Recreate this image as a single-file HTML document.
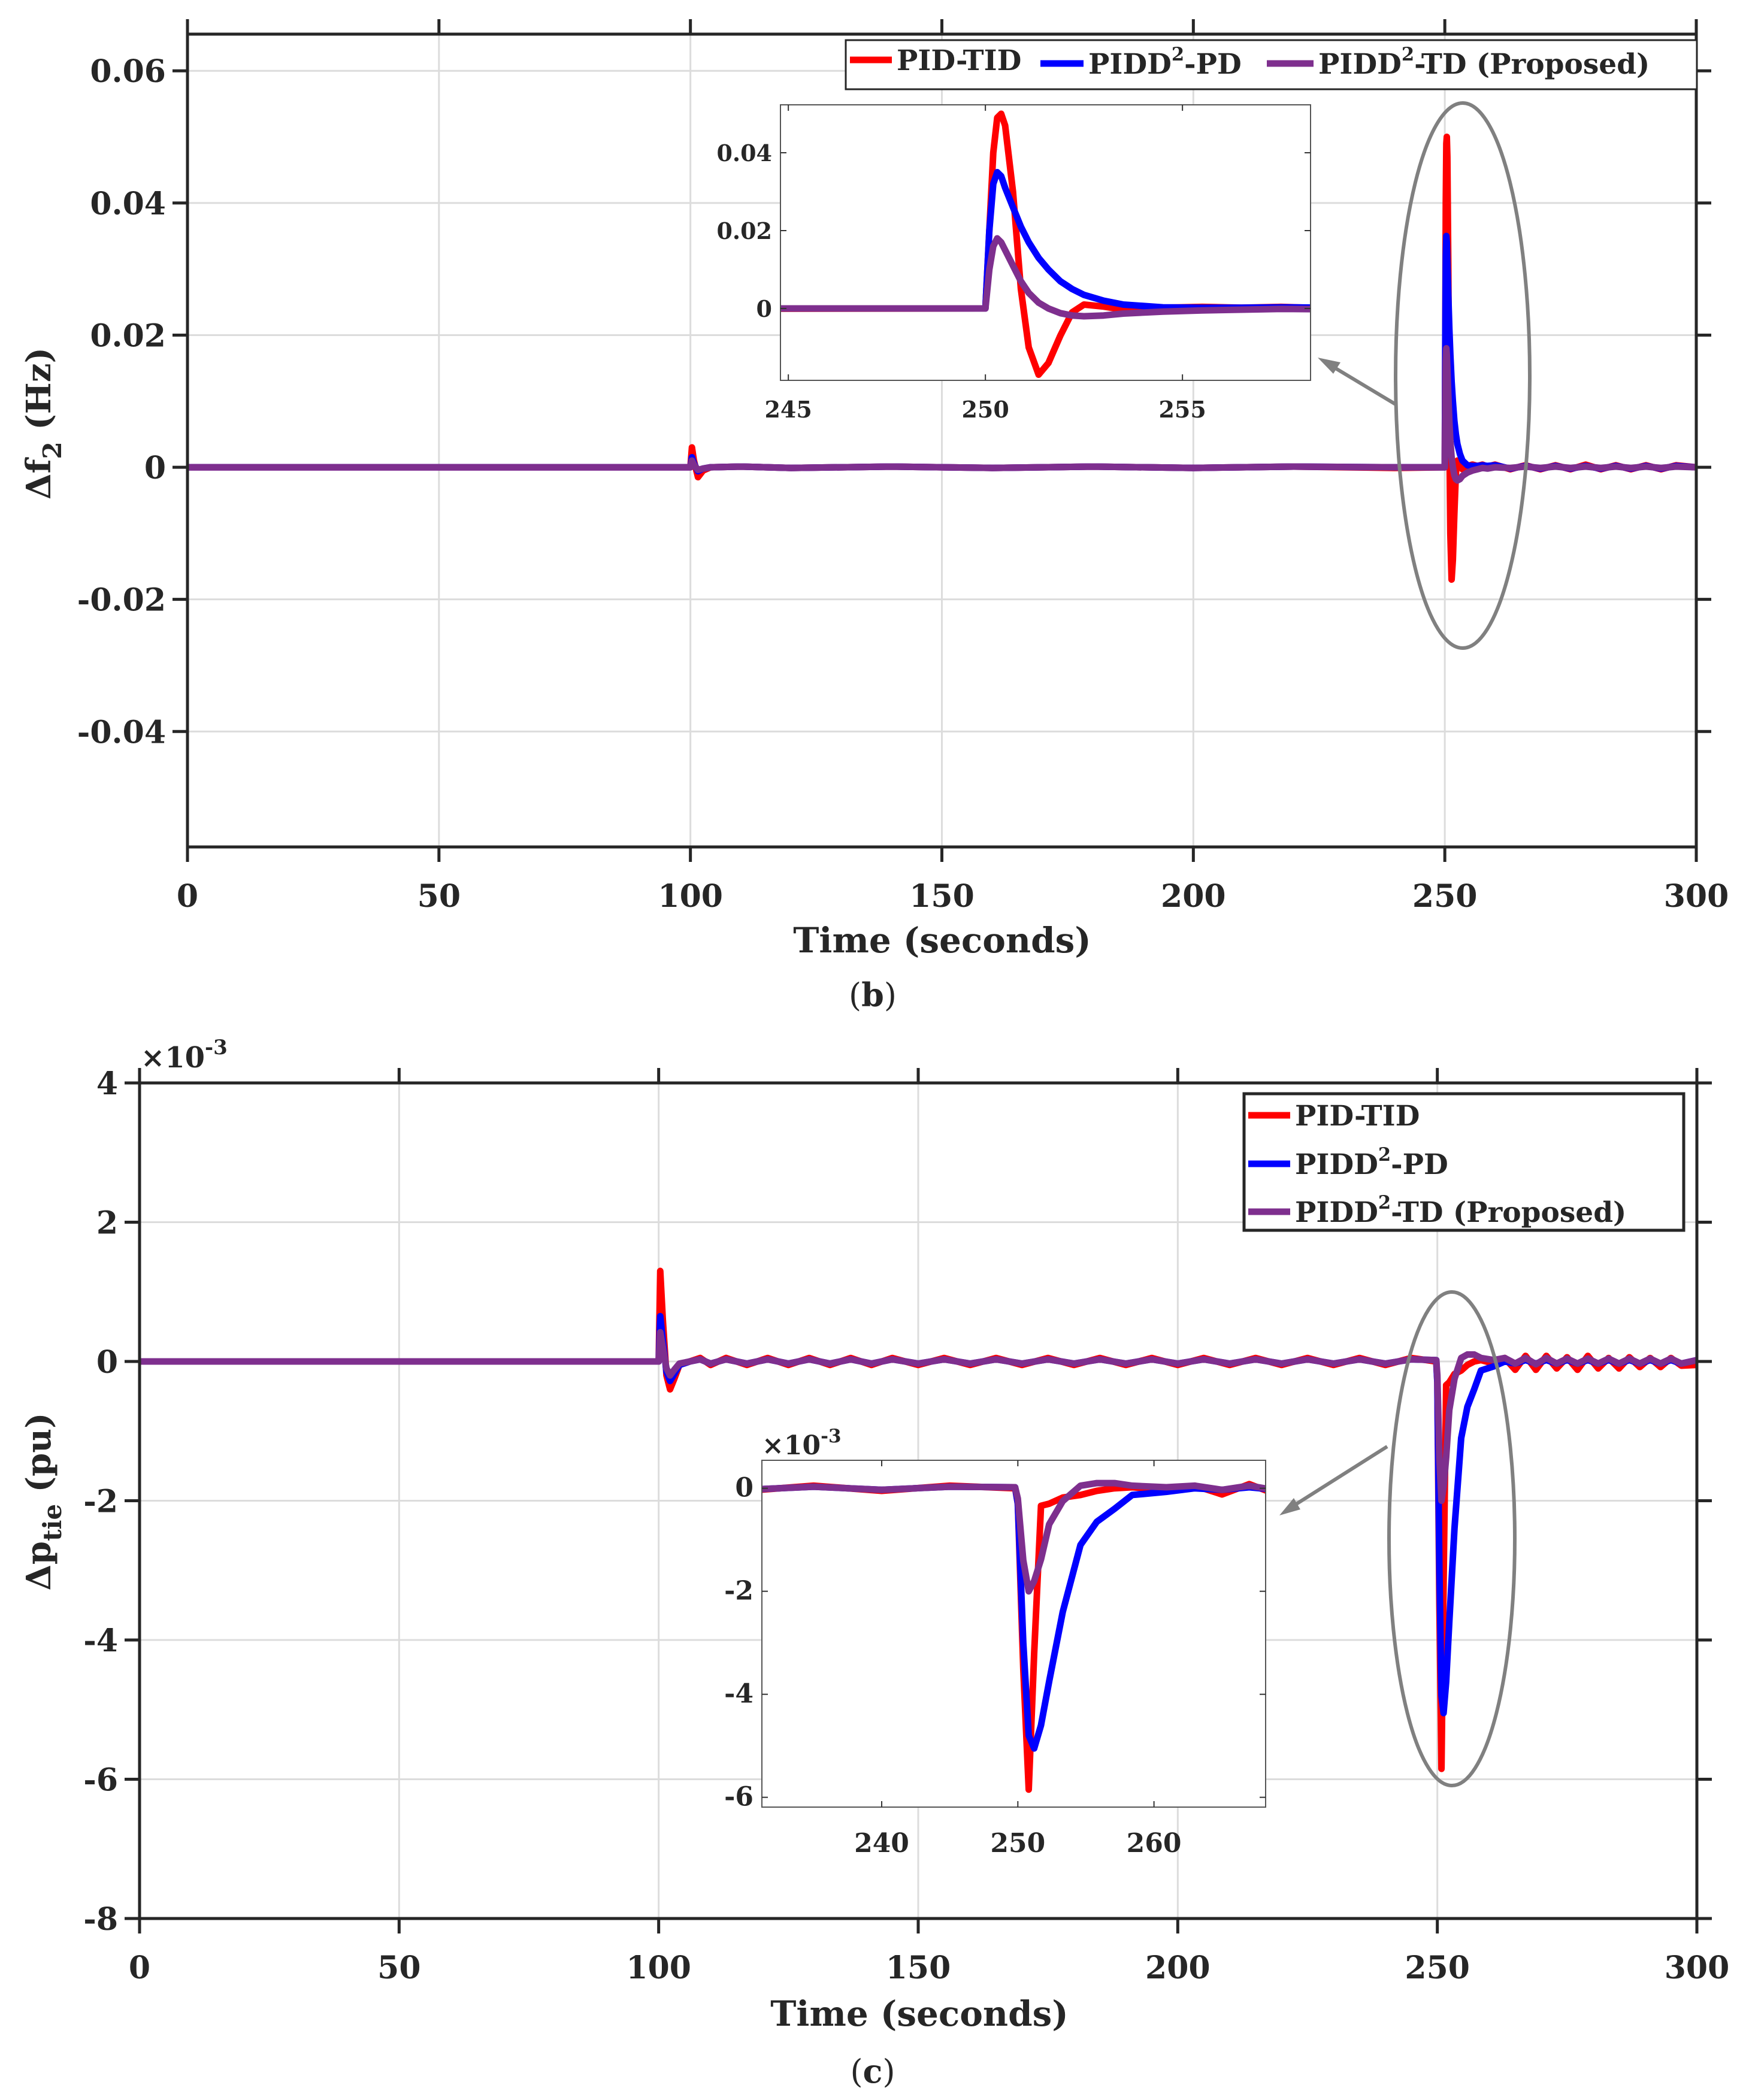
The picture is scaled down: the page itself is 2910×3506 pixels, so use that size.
<!DOCTYPE html>
<html><head><meta charset="utf-8">
<style>
html,body{margin:0;padding:0;background:#fff;}
svg{display:block;}
text{font-family:"DejaVu Serif","Liberation Serif",serif;font-weight:bold;fill:#262626;}
</style></head>
<body>
<svg id="fig" width="2910" height="3506" viewBox="0 0 2910 3506" xmlns="http://www.w3.org/2000/svg">
<defs>
<clipPath id="c1"><rect x="313" y="57" width="2519" height="1357"/></clipPath>
<clipPath id="c1i"><rect x="1303" y="175" width="885" height="460"/></clipPath>
<clipPath id="c2"><rect x="233" y="1808" width="2600" height="1395"/></clipPath>
<clipPath id="c2i"><rect x="1272" y="2438" width="841" height="579"/></clipPath>
</defs>
</svg>
<script>
// ---------- Panel (b): delta f2 (Hz) ----------
const fTimes   = [0,100,100.3,100.7,101.5,102.5,104,110,120,140,160,180,200,220,240,249.9,250,250.1,250.2,250.3,250.4,250.5,250.7,250.9,251.1,251.35,251.6,251.9,252.2,252.5,253,253.5,254.5,255.5,256.5,257.5,258.5,260,263,266,269,272,275,278,281,284,287,290,293,296,300];
const fRed     = [0,0,0.003,0.001,-0.0015,-0.0005,0,0.0001,-0.0001,0.0001,-0.0001,0.0001,-0.0001,0.0001,-0.0001,0,0,0.02,0.04,0.049,0.05,0.047,0.03,0.005,-0.01,-0.017,-0.014,-0.007,-0.001,0.001,0.0005,-0.0003,0.0002,0.0004,0.0002,0.0004,0.0001,0.0004,-0.0003,0.0003,-0.0003,0.0003,-0.0003,0.0004,-0.0003,0.0003,-0.0003,0.0003,-0.0003,0.0003,0];
const fBlue    = [0,0,0.0015,0.0006,-0.0006,-0.0002,0,0.0001,-0.0001,0.0001,-0.0001,0.0001,-0.0001,0.0001,0,0,0,0.02,0.032,0.035,0.034,0.031,0.026,0.021,0.017,0.013,0.01,0.007,0.005,0.0035,0.002,0.001,0.0003,0.0002,0.0002,0.0003,0.0002,0.0003,-0.0002,0.0002,-0.0002,0.0002,-0.0002,0.0002,-0.0002,0.0002,-0.0002,0.0002,-0.0002,0.0002,0];
const fPurple  = [0,0,0.001,0.0004,-0.0004,-0.0002,0,0.0001,-0.0001,0.0001,-0.0001,0.0001,-0.0001,0.0001,0,0,0,0.01,0.016,0.018,0.017,0.015,0.011,0.007,0.004,0.0015,0,-0.0012,-0.0018,-0.002,-0.0018,-0.0013,-0.0008,-0.0005,-0.0003,-0.0001,-0.0002,0,-0.0001,0.0001,-0.0001,0.0001,-0.0001,0.0001,-0.0001,0.0001,-0.0001,0.0001,-0.0001,0.0001,0];
const fYTicks  = [-0.04,-0.02,0,0.02,0.04,0.06];
const fYLabels = ["-0.04","-0.02","0","0.02","0.04","0.06"];
const xTicks   = [0,50,100,150,200,250,300];
const fInsetXTicks = [245,250,255];
const fInsetYTicks = [0,0.02,0.04];
const fInsetYLabels = ["0","0.02","0.04"];

// ---------- Panel (c): delta p_tie (pu, x1e-3) ----------
const pTimes   = [0,100,100.3,100.8,101.5,102.2,103,104,106,108,110,113,117,121,125,129,133,137,141,145,150,155,160,165,170,175,180,185,190,195,200,205,210,215,220,225,230,235,240,245,249.8,250,250.4,250.8,251.2,251.7,252.3,253.3,254.6,255.8,257.1,258.4,260.9,263,265,267,269,271,273,275,277,279,281,283,285,287,289,291,293,295,297,300];
const pRed     = [0,0,1.3,0.6,-0.2,-0.4,-0.25,-0.05,0,0.05,-0.05,0.05,-0.05,0.05,-0.05,0.05,-0.05,0.05,-0.05,0.05,-0.05,0.05,-0.05,0.05,-0.05,0.05,-0.05,0.05,-0.05,0.05,-0.05,0.05,-0.05,0.05,-0.05,0.05,-0.05,0.05,-0.05,0.05,0,-0.3,-3.5,-5.85,-3.2,-0.34,-0.3,-0.18,-0.13,-0.05,0,0.02,-0.03,0.05,-0.12,0.08,-0.12,0.08,-0.1,0.06,-0.12,0.08,-0.1,0.05,-0.1,0.06,-0.08,0.05,-0.08,0.05,-0.06,-0.05];
const pBlue    = [0,0,0.65,0.3,-0.15,-0.28,-0.18,-0.05,0,0.03,-0.03,0.03,-0.03,0.03,-0.03,0.03,-0.03,0.03,-0.03,0.03,-0.03,0.03,-0.03,0.03,-0.03,0.03,-0.03,0.03,-0.03,0.03,-0.03,0.03,-0.03,0.03,-0.03,0.03,-0.03,0.03,-0.03,0.03,0.02,-0.3,-3.0,-4.8,-5.05,-4.6,-3.75,-2.4,-1.1,-0.65,-0.4,-0.13,-0.07,0,-0.03,0.02,-0.03,0.02,-0.03,0.02,-0.03,0.02,-0.03,0.02,-0.03,0.02,-0.03,0.02,-0.03,0.02,-0.03,0.02];
const pPurple  = [0,0,0.42,0.2,-0.1,-0.2,-0.12,-0.03,0,0.03,-0.03,0.03,-0.03,0.03,-0.03,0.03,-0.03,0.03,-0.03,0.03,-0.03,0.03,-0.03,0.03,-0.03,0.03,-0.03,0.03,-0.03,0.03,-0.03,0.03,-0.03,0.03,-0.03,0.03,-0.03,0.03,-0.03,0.03,0.02,-0.2,-1.4,-2.0,-1.8,-1.38,-0.7,-0.25,0.05,0.1,0.1,0.05,0.02,0.05,-0.03,0.05,-0.04,0.05,-0.03,0.04,-0.03,0.04,-0.03,0.04,-0.03,0.04,-0.03,0.04,-0.03,0.04,-0.03,0.02];
const pYTicks  = [-8,-6,-4,-2,0,2,4];
const pYLabels = ["-8","-6","-4","-2","0","2","4"];
const pInsetXTicks = [240,250,260];
const pInsetYTicks = [-6,-4,-2,0];
const pInsetYLabels = ["-6","-4","-2","0"];

const seriesNames = ["PID-TID","PIDD²-PD","PIDD²-TD (Proposed)"];
const colors = ["#ff0000","#0000ff","#7e2f8e"];

const NS="http://www.w3.org/2000/svg";
const svg=document.getElementById('fig');
function mk(tag,attrs,parent){const e=document.createElementNS(NS,tag);for(const k in attrs)e.setAttribute(k,attrs[k]);(parent||svg).appendChild(e);return e;}
function lin(d0,d1,r0,r1){return v=>r0+(v-d0)*(r1-r0)/(d1-d0);}

function drawSeries(g,xs,ys,sx,sy,color,clip,name,w){
  let d='';
  for(let i=0;i<xs.length;i++){d+=(i?'L':'M')+sx(xs[i]).toFixed(1)+','+sy(ys[i]).toFixed(1);}
  const p=mk('path',{d:d,fill:'none',stroke:color,'stroke-width':w,'stroke-linejoin':'round','stroke-linecap':'round','clip-path':'url(#'+clip+')'},g);
  
  
}

function panel(cfg){
  const g=mk('g',{});
  
  
  const sx=lin(0,300,cfg.L,cfg.R), sy=lin(cfg.y0,cfg.y1,cfg.B,cfg.T);
  xTicks.forEach(t=>{ if(t>0&&t<300){const l=mk('line',{x1:sx(t),x2:sx(t),y1:cfg.T,y2:cfg.B,stroke:'#dcdcdc','stroke-width':3},g);
    
    }});
  cfg.yt.forEach(t=>{const l=mk('line',{x1:cfg.L,x2:cfg.R,y1:sy(t),y2:sy(t),stroke:'#dcdcdc','stroke-width':3},g);
    
    });
  for(let k=0;k<3;k++) drawSeries(g,cfg.t,cfg.s[k],sx,sy,colors[k],cfg.clip,'series-'+['pid-tid','pidd2-pd','pidd2-td'][k],11);
  const box=mk('rect',{x:cfg.L,y:cfg.T,width:cfg.R-cfg.L,height:cfg.B-cfg.T,fill:'none',stroke:'#262626','stroke-width':5},g);
  
  
  xTicks.forEach(t=>{
    mk('line',{x1:sx(t),x2:sx(t),y1:cfg.B,y2:cfg.B+25,stroke:'#262626','stroke-width':5},g);
    mk('line',{x1:sx(t),x2:sx(t),y1:cfg.T,y2:cfg.T-25,stroke:'#262626','stroke-width':5},g);
    const tx=mk('text',{x:sx(t),y:cfg.B+100,'text-anchor':'middle','font-size':52},g);tx.textContent=t;
    
    
  });
  cfg.yt.forEach((t,i)=>{
    mk('line',{x1:cfg.L-25,x2:cfg.L,y1:sy(t),y2:sy(t),stroke:'#262626','stroke-width':5},g);
    mk('line',{x1:cfg.R,x2:cfg.R+25,y1:sy(t),y2:sy(t),stroke:'#262626','stroke-width':5},g);
    const tx=mk('text',{x:cfg.L-36,y:sy(t)+19,'text-anchor':'end','font-size':52},g);tx.textContent=cfg.yl[i];
    
    
  });
  return {sx,sy,g};
}

function inset(cfg){
  const g=mk('g',{});
  
  
  mk('rect',{x:cfg.L,y:cfg.T,width:cfg.R-cfg.L,height:cfg.B-cfg.T,fill:'#fff',stroke:'none'},g);
  const sx=lin(cfg.x0,cfg.x1,cfg.L,cfg.R), sy=lin(cfg.y0,cfg.y1,cfg.B,cfg.T);
  for(let k=0;k<3;k++) drawSeries(g,cfg.t,cfg.s[k],sx,sy,colors[k],cfg.clip,'inset-series-'+['pid-tid','pidd2-pd','pidd2-td'][k],11);
  const box=mk('rect',{x:cfg.L,y:cfg.T,width:cfg.R-cfg.L,height:cfg.B-cfg.T,fill:'none',stroke:'#555','stroke-width':2},g);
  
  
  cfg.xt.forEach(t=>{
    mk('line',{x1:sx(t),x2:sx(t),y1:cfg.B,y2:cfg.B-10,stroke:'#333','stroke-width':2},g);
    mk('line',{x1:sx(t),x2:sx(t),y1:cfg.T,y2:cfg.T+10,stroke:'#333','stroke-width':2},g);
    const tx=mk('text',{x:sx(t),y:cfg.B+cfg.xlOff,'text-anchor':'middle','font-size':cfg.fs},g);tx.textContent=t;
    
    
  });
  cfg.yt.forEach((t,i)=>{
    mk('line',{x1:cfg.L,x2:cfg.L+10,y1:sy(t),y2:sy(t),stroke:'#333','stroke-width':2},g);
    mk('line',{x1:cfg.R,x2:cfg.R-10,y1:sy(t),y2:sy(t),stroke:'#333','stroke-width':2},g);
    const tx=mk('text',{x:cfg.L-14,y:sy(t)+14,'text-anchor':'end','font-size':cfg.fs},g);tx.textContent=cfg.yl[i];
    
    
  });
}

panel({name:'panel-b',L:313,R:2832,T:57,B:1414,y0:-0.05747,y1:0.06555,yt:fYTicks,yl:fYLabels,t:fTimes,s:[fRed,fBlue,fPurple],clip:'c1'});
const e1=mk('ellipse',{cx:2442,cy:627,rx:112,ry:455,fill:'none',stroke:'#808080','stroke-width':6});


const a1=mk('g',{});


mk('line',{x1:2330,x2:2215,y1:675,y2:606,stroke:'#808080','stroke-width':6},a1);
mk('polygon',{points:'2200,597 2238,605 2226,624',fill:'#808080'},a1);
inset({name:'inset-b',L:1303,R:2188,T:175,B:635,x0:244.80,x1:258.25,y0:-0.01846,y1:0.05231,xt:fInsetXTicks,yt:fInsetYTicks,yl:fInsetYLabels,t:fTimes,s:[fRed,fBlue,fPurple],clip:'c1i',fs:38,xlOff:62});

panel({name:'panel-c',L:233,R:2833,T:1808,B:3203,y0:-8,y1:4,yt:pYTicks,yl:pYLabels,t:pTimes,s:[pRed,pBlue,pPurple],clip:'c2'});
const e2=mk('ellipse',{cx:2424,cy:2569,rx:105,ry:412,fill:'none',stroke:'#808080','stroke-width':6});


const a2=mk('g',{});


mk('line',{x1:2316,x2:2150,y1:2415,y2:2520,stroke:'#808080','stroke-width':6},a2);
mk('polygon',{points:'2136,2530 2160,2501 2171,2520',fill:'#808080'},a2);
inset({name:'inset-c',L:1272,R:2113,T:2438,B:3017,x0:231.2,x1:268.2,y0:-6.19,y1:0.543,xt:pInsetXTicks,yt:pInsetYTicks,yl:pInsetYLabels,t:pTimes,s:[pRed,pBlue,pPurple],clip:'c2i',fs:44,xlOff:75});

function legendEntry(x,y,k,fs,lw){
  const g=mk('g',{});
  
  
  mk('line',{x1:x,x2:x+lw,y1:y,y2:y,stroke:colors[k],'stroke-width':11},g);
  const t=mk('text',{x:x+lw+8,y:y+17,'font-size':fs},g);
  const nm=seriesNames[k];
  if(nm.indexOf('²')>=0){
    const parts=nm.split('²');
    const s1=mk('tspan',{},t);s1.textContent=parts[0];
    const s2=mk('tspan',{dy:-22,'font-size':fs*0.65},t);s2.textContent='2';
    const s3=mk('tspan',{dy:22},t);s3.textContent=parts[1];
  } else t.textContent=nm;
}
const lg1=mk('rect',{x:1412,y:67,width:1421,height:82,fill:'#fff',stroke:'#262626','stroke-width':3});


legendEntry(1419,100,0,47,70);
legendEntry(1737,106,1,47,72);
legendEntry(2115,106,2,47,78);
const lg2=mk('rect',{x:2077,y:1826,width:734,height:228,fill:'#fff',stroke:'#262626','stroke-width':5});


legendEntry(2084,1862,0,47,70);
legendEntry(2084,1943,1,47,70);
legendEntry(2084,2023,2,47,70);

function txt(s,attrs,name){const t=mk('text',attrs);t.textContent=s;return t;}
txt('Time (seconds)',{x:1573,y:1590,'text-anchor':'middle','font-size':58},'x-axis-title-b');
txt('Time (seconds)',{x:1535,y:3382,'text-anchor':'middle','font-size':58},'x-axis-title-c');
const cb=txt('',{x:1457,y:1680,'text-anchor':'middle','font-size':54},'caption-b');
cb.innerHTML='<tspan font-weight="normal">(</tspan>b<tspan font-weight="normal">)</tspan>';
const cc=txt('',{x:1457,y:3477,'text-anchor':'middle','font-size':54},'caption-c');
cc.innerHTML='<tspan font-weight="normal">(</tspan>c<tspan font-weight="normal">)</tspan>';
const yb=txt('',{x:0,y:0,'text-anchor':'middle','font-size':56,transform:'translate(84,707) rotate(-90)'},'y-axis-title-b');
yb.innerHTML='Δf<tspan dy="18" font-size="42">2</tspan><tspan dy="-18"> (Hz)</tspan>';
const yc=txt('',{x:0,y:0,'text-anchor':'middle','font-size':56,transform:'translate(84,2507) rotate(-90)'},'y-axis-title-c');
yc.innerHTML='Δp<tspan dy="18" font-size="42">tie</tspan><tspan dy="-18"> (pu)</tspan>';
const m1=txt('',{x:235,y:1782,'font-size':48,'font-weight':'normal'},'exponent-label-c');
m1.innerHTML='×10<tspan dy="-22" font-size="34">-3</tspan>';
const m2=txt('',{x:1272,y:2428,'font-size':44,'font-weight':'normal'},'exponent-label-inset-c');
m2.innerHTML='×10<tspan dy="-20" font-size="31">-3</tspan>';
</script>
</body></html>
